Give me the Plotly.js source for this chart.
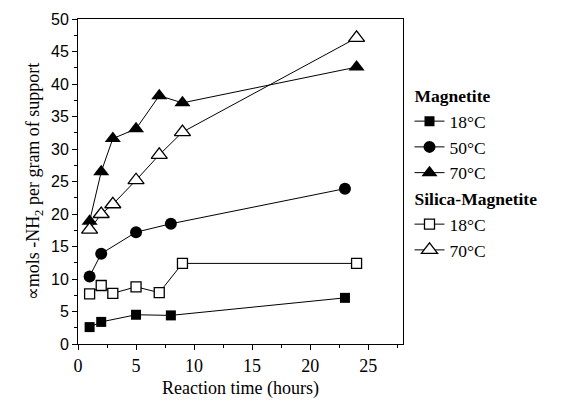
<!DOCTYPE html>
<html><head><meta charset="utf-8">
<script src="https://cdn.plot.ly/plotly-3.0.1.min.js"></script>
<style>
body{margin:0;background:#fff}
#c text{font-family:"Liberation Serif","Times New Roman",serif !important}
#c .ytick text, #c g.ytick text{font-family:"Liberation Sans",Arial,sans-serif !important}
</style>
</head><body>
<div id="c"></div>
<script>
const mag18X = [1, 2, 5, 8, 23];
const mag18Y = [2.6, 3.4, 4.5, 4.4, 7.1];
const mag50X = [1, 2, 5, 8, 23];
const mag50Y = [10.4, 13.9, 17.2, 18.5, 23.9];
const mag70X = [1, 2, 3, 5, 7, 9, 24];
const mag70Y = [18.9, 26.5, 31.6, 33.1, 38.2, 37.1, 42.6];
const sil18X = [1, 2, 3, 5, 7, 9, 24];
const sil18Y = [7.7, 9.0, 7.8, 8.8, 7.9, 12.4, 12.4];
const sil70X = [1, 2, 3, 5, 7, 9, 24];
const sil70Y = [17.6, 20.0, 21.5, 25.2, 29.1, 32.6, 47.1];
const seriesNames = ["18°C", "50°C", "70°C", "18°C", "70°C"];
const groupTitles = ["Magnetite", "Silica-Magnetite"];

const SERIF = "Times New Roman";
const SANS = "Liberation Sans";
const line = {color: "#000", width: 1};
function tr(x, y, name, group, title, symbol, size, open) {
  const t = {
    x: x, y: y, name: name, type: "scatter", mode: "lines+markers",
    line: line, legendgroup: group,
    marker: {symbol: symbol, size: size, color: open ? "#fff" : "#000",
             line: {color: "#000", width: open ? 1.3 : 0}}
  };
  if (title) t.legendgrouptitle = {text: "<b>" + title + "</b>", font: {family: SERIF, size: 17.5, color: "#000"}};
  return t;
}
const data = [
  tr(mag18X, mag18Y, seriesNames[0], "m", groupTitles[0], "square", 10, false),
  tr(mag50X, mag50Y, seriesNames[1], "m", null, "circle", 12, false),
  tr(mag70X, mag70Y, seriesNames[2], "m", null, "triangle-up", 14, false),
  tr(sil18X, sil18Y, seriesNames[3], "s", groupTitles[1], "square", 10, true),
  tr(sil70X, sil70Y, seriesNames[4], "s", null, "triangle-up", 14, true)
];
const layout = {
  width: 561, height: 406,
  margin: {l: 78, r: 158, t: 19, b: 62},
  paper_bgcolor: "#fff", plot_bgcolor: "#fff",
  font: {family: SERIF, size: 18, color: "#000"},
  showlegend: true,
  legend: {x: 1.02, xanchor: "left", y: 0.82, yanchor: "top", tracegroupgap: 0,
           font: {family: SERIF, size: 17.5, color: "#000"},
           traceorder: "grouped"},
  xaxis: {range: [0, 28], dtick: 5, tick0: 0, ticks: "outside", ticklen: 5, tickwidth: 1,
          tickcolor: "#000", showline: true, linecolor: "#000", linewidth: 1, mirror: true,
          showgrid: false, zeroline: false,
          minor: {dtick: 2.5, ticks: "outside", ticklen: 3, tickcolor: "#000", showgrid: false},
          tickfont: {family: SERIF, size: 18, color: "#000"},
          title: {text: "Reaction time (hours)", font: {family: SERIF, size: 18, color: "#000"}, standoff: 6}},
  yaxis: {range: [0, 50], dtick: 5, tick0: 0, ticks: "outside", ticklen: 5, tickwidth: 1,
          tickcolor: "#000", showline: true, linecolor: "#000", linewidth: 1, mirror: true,
          showgrid: false, zeroline: false,
          minor: {dtick: 2.5, ticks: "outside", ticklen: 3, tickcolor: "#000", showgrid: false},
          tickfont: {family: SANS, size: 16, color: "#000"},
          title: {text: "∝mols -NH<sub>2</sub> per gram of support", font: {family: SERIF, size: 18, color: "#000"}, standoff: 6}}
};
Plotly.newPlot("c", data, layout, {displayModeBar: false});
</script></body></html>
